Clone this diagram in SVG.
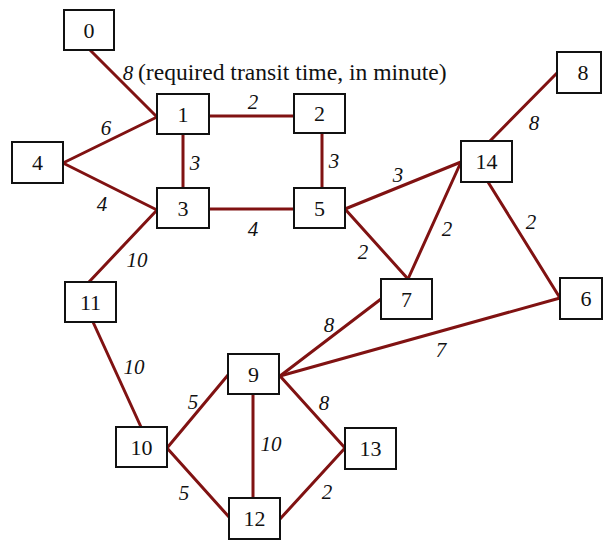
<svg xmlns="http://www.w3.org/2000/svg" width="603" height="540" viewBox="0 0 603 540">
<style>
.bg{fill:#fff}
.node rect{fill:#fff;stroke:#111;stroke-width:2}
.node text{font-family:'Liberation Serif','Times New Roman',Times,serif;font-size:22px;fill:#111;text-anchor:middle}
#edges line{stroke:#801212;stroke-width:3;stroke-linecap:round}
.w{font-family:'Liberation Serif','Times New Roman',Times,serif;font-size:21px;font-style:italic;fill:#111;text-anchor:middle}
.t{font-family:'Liberation Serif','Times New Roman',Times,serif;font-size:23.6px;fill:#111}
</style>
<rect class="bg" x="0" y="0" width="603" height="540"/>
<g id="edges">
<line x1="90" y1="50" x2="157" y2="117"/>
<line x1="63" y1="163" x2="157" y2="117"/>
<line x1="63" y1="163" x2="157" y2="210"/>
<line x1="183" y1="134" x2="183" y2="188"/>
<line x1="209" y1="116" x2="294" y2="116"/>
<line x1="209" y1="209" x2="294" y2="209"/>
<line x1="322" y1="133" x2="322" y2="188"/>
<line x1="345" y1="209" x2="461" y2="162"/>
<line x1="345" y1="209" x2="408" y2="279"/>
<line x1="408" y1="279" x2="461" y2="162"/>
<line x1="490" y1="141" x2="557" y2="73"/>
<line x1="488" y1="182" x2="560" y2="298"/>
<line x1="381" y1="299" x2="280" y2="376"/>
<line x1="560" y1="298" x2="280" y2="376"/>
<line x1="157" y1="210" x2="89" y2="282"/>
<line x1="93" y1="322" x2="141" y2="427"/>
<line x1="167" y1="448" x2="228" y2="375"/>
<line x1="167" y1="448" x2="229" y2="517"/>
<line x1="253" y1="394" x2="253" y2="498"/>
<line x1="280" y1="376" x2="345" y2="448"/>
<line x1="280" y1="519" x2="345" y2="448"/>
</g>
<g id="weights">
<text class="w" x="106" y="135">6</text>
<text class="w" x="195" y="170">3</text>
<text class="w" x="102" y="211">4</text>
<text class="w" x="253" y="109">2</text>
<text class="w" x="253" y="236">4</text>
<text class="w" x="334" y="168">3</text>
<text class="w" x="398" y="182">3</text>
<text class="w" x="363" y="259">2</text>
<text class="w" x="447" y="236">2</text>
<text class="w" x="534" y="130">8</text>
<text class="w" x="531" y="229">2</text>
<text class="w" x="329" y="332">8</text>
<text class="w" x="441" y="357">7</text>
<text class="w" x="137" y="267">10</text>
<text class="w" x="134" y="374">10</text>
<text class="w" x="193" y="409">5</text>
<text class="w" x="271" y="451">10</text>
<text class="w" x="324" y="410">8</text>
<text class="w" x="184" y="500">5</text>
<text class="w" x="327" y="499">2</text>
</g>
<g id="caption">
<text class="w" x="128" y="80">8</text>
<text class="t" x="138" y="80">(required transit time, in minute)</text>
</g>
<g id="n0" class="node"><rect x="64" y="10" width="50" height="40"/><text x="89" y="38">0</text></g>
<g id="n1" class="node"><rect x="157" y="94" width="52" height="40"/><text x="183" y="122">1</text></g>
<g id="n2" class="node"><rect x="294" y="94" width="51" height="39"/><text x="319.5" y="121">2</text></g>
<g id="n3" class="node"><rect x="157" y="188" width="52" height="40"/><text x="183" y="216">3</text></g>
<g id="n4" class="node"><rect x="12" y="142" width="51" height="41"/><text x="37.5" y="170">4</text></g>
<g id="n5" class="node"><rect x="294" y="188" width="51" height="40"/><text x="319.5" y="216">5</text></g>
<g id="n6" class="node"><rect x="560" y="278" width="42" height="41"/><text x="586" y="306">6</text></g>
<g id="n7" class="node"><rect x="381" y="279" width="51" height="40"/><text x="406.5" y="307">7</text></g>
<g id="n8" class="node"><rect x="557" y="52" width="44" height="41"/><text x="583" y="80">8</text></g>
<g id="n9" class="node"><rect x="228" y="354" width="51" height="40"/><text x="253.5" y="382">9</text></g>
<g id="n10" class="node"><rect x="116" y="427" width="51" height="40"/><text x="141.5" y="455">10</text></g>
<g id="n11" class="node"><rect x="65" y="282" width="51" height="40"/><text x="90.5" y="310">11</text></g>
<g id="n12" class="node"><rect x="229" y="498" width="51" height="41"/><text x="254.5" y="526">12</text></g>
<g id="n13" class="node"><rect x="345" y="428" width="51" height="41"/><text x="370.5" y="456">13</text></g>
<g id="n14" class="node"><rect x="461" y="141" width="51" height="41"/><text x="486.5" y="169">14</text></g>
</svg>
